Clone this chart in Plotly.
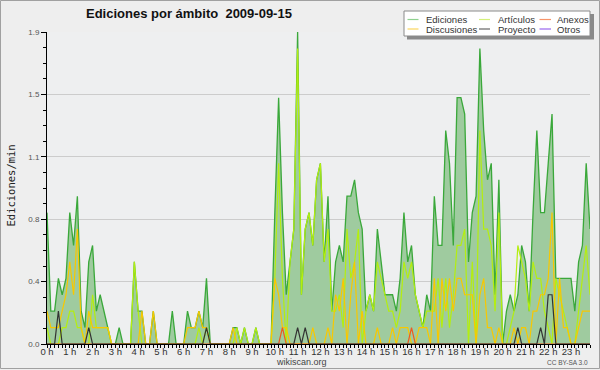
import plotly.graph_objects as go

# 10-minute slots over the day (minutes since 00:00)
slot_minutes = list(range(0, 1440, 10))

ediciones = [
    0.8, 0.2, 0.2, 0.4, 0.3, 0.4, 0.8, 0.6, 0.9, 0.2,
    0.1, 0.5, 0.6, 0.2, 0.3, 0.2, 0.1, 0, 0, 0.1,
    0, 0, 0, 0.5, 0.2, 0.2, 0, 0, 0.2, 0,
    0, 0, 0, 0.2, 0, 0, 0, 0.2, 0.1, 0.1,
    0.2, 0.1, 0.4, 0, 0, 0, 0, 0, 0, 0.1,
    0.1, 0, 0.1, 0, 0, 0.1, 0, 0, 0, 0,
    0.8, 1.5, 0.8, 0.3, 0.5, 0.7, 1.9, 0.3, 0.7, 0.8,
    0.6, 1.0, 1.1, 0.5, 0.9, 0.2, 0.5, 0.6, 0.5, 0.9,
    0.9, 1.0, 0.8, 0.7, 0.2, 0.3, 0.2, 0.7, 0.5, 0.3,
    0.3, 0.3, 0.2, 0.4, 0.8, 0.5, 0.6, 0.3, 0.2, 0.1,
    0.3, 0.2, 0.9, 0.6, 0.6, 1.3, 1.1, 0.6, 1.5, 1.5,
    1.4, 0.5, 0.8, 0.9, 1.8, 1.3, 1.0, 1.1, 0.3, 1.0,
    0, 0.2, 0.3, 0.2, 0.3, 0.6, 0.5, 0.2, 0.8, 1.3,
    0.8, 0.8, 1.1, 1.4, 0.4, 0.4, 0.4, 0.4, 0.4, 0.2,
    0.5, 0.6, 1.1, 0.7,
]

articulos = [
    0.1, 0, 0, 0, 0.1, 0.1, 0.2, 0.2, 0.1, 0.1,
    0, 0, 0.3, 0.1, 0.1, 0.1, 0.1, 0, 0, 0,
    0, 0, 0, 0.5, 0.2, 0, 0, 0, 0, 0,
    0, 0, 0, 0, 0, 0, 0, 0, 0, 0,
    0.1, 0, 0.1, 0, 0, 0, 0, 0, 0, 0,
    0.1, 0, 0.1, 0, 0, 0.1, 0, 0, 0, 0,
    0.4, 1.1, 0.4, 0, 0.5, 0.7, 1.8, 0.3, 0.7, 0.8,
    0.6, 1.0, 1.1, 0.5, 0.7, 0.2, 0.2, 0.3, 0.1, 0.7,
    0.4, 0.5, 0.7, 0, 0.2, 0.3, 0.2, 0.5, 0.4, 0.3,
    0.2, 0.2, 0.1, 0.2, 0.5, 0.4, 0.5, 0.3, 0.2, 0.1,
    0.2, 0.2, 0.2, 0.4, 0.1, 0.4, 0.1, 0.3, 0.6, 0.6,
    0.7, 0, 0.5, 0, 1.3, 0.7, 0.7, 0.6, 0.2, 0.8,
    0, 0, 0.1, 0.2, 0.6, 0.5, 0.4, 0.2, 0.5, 0.4,
    0.4, 0.2, 0.1, 0, 0.4, 0.3, 0.2, 0.1, 0, 0,
    0.2, 0.4, 0.6, 0.3,
]

discusiones = [
    0.2, 0.1, 0.1, 0.1, 0.2, 0.3, 0.5, 0.3, 0.7, 0.1,
    0, 0.2, 0.1, 0.1, 0.1, 0.1, 0.1, 0, 0, 0,
    0, 0, 0, 0, 0, 0.2, 0, 0, 0.2, 0,
    0, 0, 0, 0, 0, 0, 0, 0.1, 0.1, 0.1,
    0.2, 0.1, 0.1, 0, 0, 0, 0, 0, 0, 0.1,
    0, 0, 0, 0, 0, 0, 0, 0, 0, 0,
    0.4, 0.3, 0.1, 0.1, 0, 0, 0, 0, 0, 0,
    0.1, 0, 0, 0, 0.1, 0, 0.3, 0.2, 0.4, 0,
    0.3, 0.5, 0, 0.2, 0, 0, 0, 0.1, 0, 0,
    0, 0.1, 0, 0.1, 0.1, 0.1, 0, 0, 0.1, 0.1,
    0.1, 0, 0.4, 0, 0.4, 0.2, 0.4, 0.2, 0.4, 0.4,
    0.3, 0.3, 0.3, 0, 0.3, 0.4, 0.1, 0.1, 0, 0.1,
    0, 0, 0, 0.1, 0, 0.1, 0.1, 0, 0.2, 0.2,
    0.3, 0.3, 0.4, 0.8, 0, 0.4, 0.1, 0.1, 0, 0,
    0.1, 0.2, 0.2, 0.2,
]

anexos = [0] * 144
anexos_nonzero = {62: 0.1, 96: 0.1}
for k, v in anexos_nonzero.items():
    anexos[k] = v

proyecto = [0] * 144
proyecto_nonzero = {3: 0.2, 11: 0.1, 42: 0.1, 66: 0.1, 68: 0.1,
                    124: 0.1, 130: 0.1, 132: 0.3, 133: 0.3}
for k, v in proyecto_nonzero.items():
    proyecto[k] = v

hour_labels = [f"{h} h" for h in range(24)]
y_tickvals = [0, 0.38, 0.76, 1.14, 1.52, 1.9]
y_ticktext = ["0.0", "0.4", "0.8", "1.1", "1.5", "1.9"]

legend_names = [["Ediciones", "Artículos", "Anexos"],
                ["Discusiones", "Proyecto", "Otros"]]
legend_colors = [["#8fd18f", "#d4f07a", "#f7946a"],
                 ["#fbd65e", "#666666", "#9a66ee"]]

x_hours = [m / 60 for m in slot_minutes]

fig = go.Figure()
fig.add_trace(go.Scatter(x=x_hours, y=ediciones, mode="lines", name="Ediciones",
                         line=dict(color="#3aa83a", width=1.3),
                         fill="tozeroy", fillcolor="#9fcb9f"))
fig.add_trace(go.Scatter(x=x_hours, y=articulos, mode="lines", name="Artículos",
                         line=dict(color="#b4ee10", width=1.2)))
fig.add_trace(go.Scatter(x=x_hours, y=discusiones, mode="lines", name="Discusiones",
                         line=dict(color="#f8c800", width=1.2)))
fig.add_trace(go.Scatter(x=x_hours, y=anexos, mode="lines", name="Anexos",
                         line=dict(color="#ee5a20", width=1.2)))
fig.add_trace(go.Scatter(x=x_hours, y=proyecto, mode="lines", name="Proyecto",
                         line=dict(color="#333333", width=1.2)))

# pixel helpers for the plot area (47..590 x, 32..344 y)
PX0, PX1, PY0, PY1 = 47, 590, 32, 344
def fx(px):
    return (px - PX0) / (PX1 - PX0)
def fy(py):
    return (PY1 - py) / (PY1 - PY0)

shapes = []
annotations = []

# outer border
shapes.append(dict(type="rect", xref="paper", yref="paper",
                   x0=fx(0.5), x1=fx(599.5), y0=fy(0.5), y1=fy(368.5),
                   line=dict(color="#a0a0a0", width=1), fillcolor="rgba(0,0,0,0)",
                   layer="above"))

# legend box with shadow
shapes.append(dict(type="rect", xref="paper", yref="paper",
                   x0=fx(407), x1=fx(594), y0=fy(14), y1=fy(39.5),
                   line=dict(width=0), fillcolor="#8a8a8a", layer="above"))
shapes.append(dict(type="rect", xref="paper", yref="paper",
                   x0=fx(404), x1=fx(590), y0=fy(11), y1=fy(36),
                   line=dict(color="#8a8a8a", width=1), fillcolor="#ffffff",
                   layer="above"))
col_line_x = [(407.5, 418.5), (479, 490), (539.5, 551)]
col_text_x = [423.5, 495.5, 555]
row_y = [19.5, 29]
for r in range(2):
    for c in range(3):
        lx0, lx1 = col_line_x[c]
        shapes.append(dict(type="line", xref="paper", yref="paper",
                           x0=fx(lx0), x1=fx(lx1), y0=fy(row_y[r]), y1=fy(row_y[r]),
                           line=dict(color=legend_colors[r][c], width=1.2),
                           layer="above"))
        annotations.append(dict(text=legend_names[r][c], xref="paper", yref="paper",
                                x=fx(col_text_x[c]), y=fy(row_y[r]),
                                xanchor="left", yanchor="middle", showarrow=False,
                                font=dict(family="Liberation Sans", size=9.5,
                                          color="#333333")))

# title
annotations.append(dict(text="<b>Ediciones por ámbito\u00a0\u00a02009-09-15</b>",
                        xref="paper", yref="paper", x=fx(188.5), y=fy(13.5),
                        xanchor="center", yanchor="middle", showarrow=False,
                        font=dict(family="Liberation Sans", size=13, color="#111111")))
# y axis title
annotations.append(dict(text="Ediciones/min", xref="paper", yref="paper",
                        x=fx(10.5), y=fy(186), textangle=-90,
                        xanchor="center", yanchor="middle", showarrow=False,
                        font=dict(family="DejaVu Sans Mono", size=10.5, color="#222222")))
# footer texts
annotations.append(dict(text="wikiscan.org", xref="paper", yref="paper",
                        x=fx(301), y=fy(362), xanchor="center", yanchor="middle",
                        showarrow=False,
                        font=dict(family="Liberation Sans", size=9, color="#444444")))
annotations.append(dict(text="CC BY-SA 3.0", xref="paper", yref="paper",
                        x=fx(590), y=fy(362.5), xanchor="right", yanchor="middle",
                        showarrow=False,
                        font=dict(family="Liberation Sans", size=6.5, color="#555555")))

minor_x = [m / 60 for m in slot_minutes]
minor_y = [k * 0.095 for k in range(21)]

fig.update_layout(
    width=600, height=370,
    margin=dict(l=PX0, r=600 - PX1, t=PY0, b=370 - PY1, pad=0),
    paper_bgcolor="#eeeeee", plot_bgcolor="#eeeff0",
    showlegend=False,
    shapes=shapes, annotations=annotations,
    font=dict(family="Liberation Sans"),
    xaxis=dict(range=[0, 143 / 6], tickmode="array",
               tickvals=list(range(24)), ticktext=hour_labels,
               showgrid=False, zeroline=False, showline=True,
               linecolor="#000000", linewidth=1,
               ticks="outside", ticklen=3, tickcolor="#000000", tickwidth=1,
               ticklabelstandoff=-4,
               tickfont=dict(family="Liberation Sans", size=9.5, color="#333333"),
               minor=dict(tickmode="array", tickvals=minor_x, ticks="outside",
                          ticklen=3, tickcolor="#000000", tickwidth=1,
                          showgrid=False),
               fixedrange=True),
    yaxis=dict(range=[0, 1.9], tickmode="array",
               tickvals=y_tickvals, ticktext=y_ticktext,
               showgrid=True, gridcolor="#cccccc", gridwidth=1,
               zeroline=False, showline=True, linecolor="#000000", linewidth=1,
               ticks="outside", ticklen=5, tickcolor="#000000", tickwidth=1,
               tickfont=dict(family="Liberation Sans", size=8, color="#555555"),
               minor=dict(tickmode="array", tickvals=minor_y, ticks="outside",
                          ticklen=3, tickcolor="#000000", tickwidth=1,
                          showgrid=False),
               fixedrange=True),
)

fig.write_html("out.html", config={"displayModeBar": False},
               post_script="document.body.style.margin='0';"
                           "document.body.style.overflow='hidden';")
